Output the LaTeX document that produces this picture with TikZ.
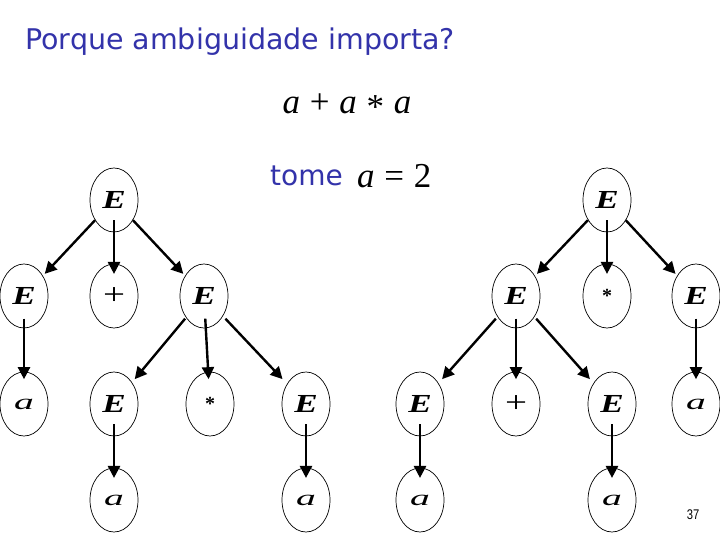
\documentclass[tikz,border=0pt]{standalone}
\usepackage{fontspec}
\setmainfont{Liberation Serif}
\newfontfamily\titlefont{DejaVu Sans}
\newfontfamily\numfont{Liberation Sans}
\usetikzlibrary{shapes.geometric,calc,arrows.meta}
\definecolor{titleblue}{RGB}{51,51,170}
\tikzset{
  nd/.style={ellipse,draw,line width=0.7pt,minimum width=48pt,minimum height=64pt,inner sep=0pt},
  arr/.style={line width=2.4pt,-{Triangle[length=12pt,width=12pt]}},
}
\newcommand{\nE}{{\fontsize{26}{28}\selectfont\scalebox{1.35}[1]{\textbf{\textit{E}}}}}
\newcommand{\nA}{{\fontsize{22}{22}\selectfont\scalebox{1.8}[1]{\textit{a}}}}
\newcommand{\nP}{{\fontsize{30}{30}\selectfont\scalebox{1.3}[1]{+}}}
\newcommand{\nS}{{\fontsize{20}{20}\selectfont\raisebox{-0.35ex}{\textbf{*}}}}
\newcommand{\arrowpc}[2]{\draw[arr] ($(#1)!0.21!(#2)$) -- ($(#1)!0.77!(#2)$);}
\begin{document}
\begin{tikzpicture}[x=1pt,y=-1pt]
\useasboundingbox (0,0) rectangle (720,540);
\fill[white] (0,0) rectangle (720,540);
\node[anchor=west,text=titleblue,inner sep=0pt] (title) at (25,42) {\titlefont\fontsize{28.5}{30}\selectfont Porque ambiguidade importa?};
\node[inner sep=0pt] (expr) at (347,106) {\fontsize{35}{36}\selectfont\textit{a}\;+\;\textit{a}\;\raisebox{-0.3ex}{*}\;\textit{a}};
\node[anchor=west,text=titleblue,inner sep=0pt] (tome) at (270,176) {\titlefont\fontsize{28}{30}\selectfont tome};
\node[anchor=west,inner sep=0pt] (aeq) at (357,176) {\fontsize{35}{36}\selectfont\textit{a}\;=\;2};
\node[inner sep=0pt] (pg) at (693,515) {\numfont\fontsize{14}{14}\selectfont\scalebox{0.8}[1]{37}};
% left tree
\node[nd] (L1) at (114,200) {\nE};
\node[nd] (L2a) at (24,296) {\nE};
\node[nd] (L2b) at (114,296) {\nP};
\node[nd] (L2c) at (204,296) {\nE};
\node[nd] (L3a) at (24,404) {\nA};
\node[nd] (L3b) at (114,404) {\nE};
\node[nd] (L3c) at (210,404) {\nS};
\node[nd] (L3d) at (306,404) {\nE};
\node[nd] (L4a) at (114,500) {\nA};
\node[nd] (L4b) at (306,500) {\nA};
\arrowpc{L1}{L2a}
\arrowpc{L1}{L2b}
\arrowpc{L1}{L2c}
\arrowpc{L2a}{L3a}
\arrowpc{L2c}{L3b}
\arrowpc{L2c}{L3c}
\arrowpc{L2c}{L3d}
\arrowpc{L3b}{L4a}
\arrowpc{L3d}{L4b}
% right tree
\node[nd] (R1) at (607,200) {\nE};
\node[nd] (R2a) at (516,296) {\nE};
\node[nd] (R2b) at (607,296) {\nS};
\node[nd] (R2c) at (696,296) {\nE};
\node[nd] (R3a) at (420,404) {\nE};
\node[nd] (R3b) at (516,404) {\nP};
\node[nd] (R3c) at (612,404) {\nE};
\node[nd] (R3d) at (696,404) {\nA};
\node[nd] (R4a) at (420,500) {\nA};
\node[nd] (R4b) at (612,500) {\nA};
\arrowpc{R1}{R2a}
\arrowpc{R1}{R2b}
\arrowpc{R1}{R2c}
\arrowpc{R2a}{R3a}
\arrowpc{R2a}{R3b}
\arrowpc{R2a}{R3c}
\arrowpc{R2c}{R3d}
\arrowpc{R3a}{R4a}
\arrowpc{R3c}{R4b}
\end{tikzpicture}
\end{document}
